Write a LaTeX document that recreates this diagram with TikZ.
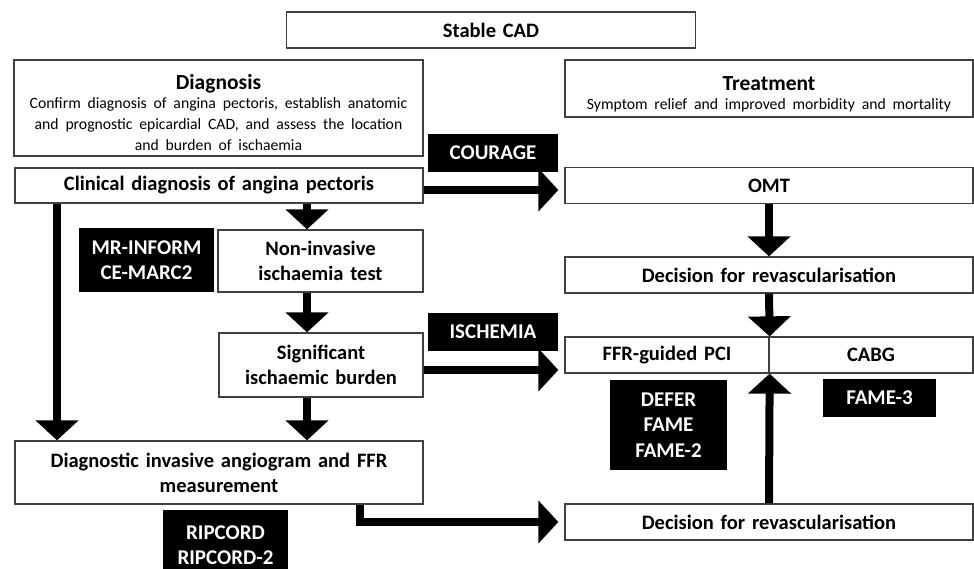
\documentclass[tikz,border=0pt]{standalone}
\usepackage{fontspec}
\setmainfont{Carlito}
\usetikzlibrary{arrows.meta}

\begin{document}
\begin{tikzpicture}[x = 1pt, y = -1pt,
box/.style ={draw = black!75, line width = 1.3pt, fill = white, text = black, inner sep = 0pt, align = center,
  font = \fontsize{20.5}{25}\selectfont\bfseries},
trial/.style ={fill = black, text = white, inner sep = 0pt, align = center,
  font = \fontsize{21}{25.5}\selectfont\bfseries},
flow/.style ={line width = 8pt, -{Triangle[width = 42pt, length = 20pt]}}]
\useasboundingbox (0,0) rectangle (974,569);
\clip (0,0) rectangle (974,569);

% header and the two columns
\node[box, text width = 409pt, minimum height = 36pt] (stable) at (491,30) {Stable CAD};
\node[box, text width = 409pt, minimum height = 96pt] (diag) at (218.5,108)
  {{\fontsize{21.5}{22}\selectfont Diagnosis\par}\vspace{-2pt}
   \fontsize{15.7}{21}\selectfont\mdseries Confirm diagnosis of angina pectoris, establish anatomic\\
   and prognostic epicardial CAD, and assess the location\\ and burden of ischaemia\par\vspace{-9pt}};
\node[box, text width = 408pt, minimum height = 57pt] (treat) at (769,88.5)
  {{\fontsize{21.5}{22}\selectfont Treatment\par}\vspace{-3pt}
   \fontsize{15.7}{22}\selectfont\mdseries Symptom relief and improved morbidity and mortality\par\vspace{-12pt}};

% diagnostic pathway
\node[box, text width = 408pt, minimum height = 35pt] (clin) at (219,185.5) {Clinical diagnosis of angina pectoris};
\node[box, text width = 205pt, minimum height = 62pt] (noninv) at (320.5,261) {Non-invasive\\ ischaemia test};
\node[box, text width = 204pt, minimum height = 64pt] (sig) at (321,365) {Significant\\ ischaemic burden};
\node[box, text width = 408pt, minimum height = 63pt] (diagn) at (219,472.5) {Diagnostic invasive angiogram and FFR\\ measurement};

% treatment pathway
\node[box, text width = 408pt, minimum height = 36pt] (omt) at (769,185.5) {OMT};
\node[box, text width = 408pt, minimum height = 36pt] (dec1) at (769,275) {Decision for revascularisation};
\node[box, text width = 204pt, minimum height = 36pt] (pci) at (667,355) {FFR-guided PCI};
\node[box, text width = 204pt, minimum height = 36pt] (cabg) at (871,355) {CABG};
\node[box, text width = 408pt, minimum height = 36pt] (dec2) at (769,522) {Decision for revascularisation};

% trials
\node[trial, text width = 130pt, minimum height = 38pt] (courage) at (493,153) {COURAGE};
\node[trial, text width = 135pt, minimum height = 64pt] (mri) at (146.5,260) {MR-INFORM\\ CE-MARC2};
\node[trial, text width = 130pt, minimum height = 38pt] (ischemia) at (493,332) {ISCHEMIA};
\node[trial, text width = 117pt, minimum height = 90pt] (defer) at (668.5,425) {DEFER\\ FAME\\ FAME-2};
\node[trial, text width = 113pt, minimum height = 38pt] (fame3) at (879.5,398) {FAME-3};
\node[trial, text width = 125pt, minimum height = 70pt] (ripcord) at (225.5,545) {RIPCORD\\ RIPCORD-2};

\coordinate (leftcol) at (57,0);
\coordinate (midcol) at (307,0);
\coordinate (elbowcol) at (360,0);

\path[flow] (clin.south -| leftcol) edge (diagn.north -| leftcol)
      (clin.south -| midcol) edge (noninv.north -| midcol)
      (noninv.south -| midcol) edge (sig.north -| midcol)
      (sig.south -| midcol) edge (diagn.north -| midcol)
      (omt.south) edge (dec1.north)
      (dec1.south) edge (pci.north east)
      (dec2.north) edge (pci.south east);
\draw[flow, shorten >= 6pt] ([yshift = -4.5pt]clin.east) -- ([yshift = -4.5pt]omt.west);
\draw[flow, shorten >= 6pt] ([yshift = -5pt]sig.east) -- ([yshift = -5pt]sig.east -| pci.west);
\draw[flow, shorten >= 6pt] (diagn.south -| elbowcol) |- (dec2.west);
\end{tikzpicture}
\end{document}
